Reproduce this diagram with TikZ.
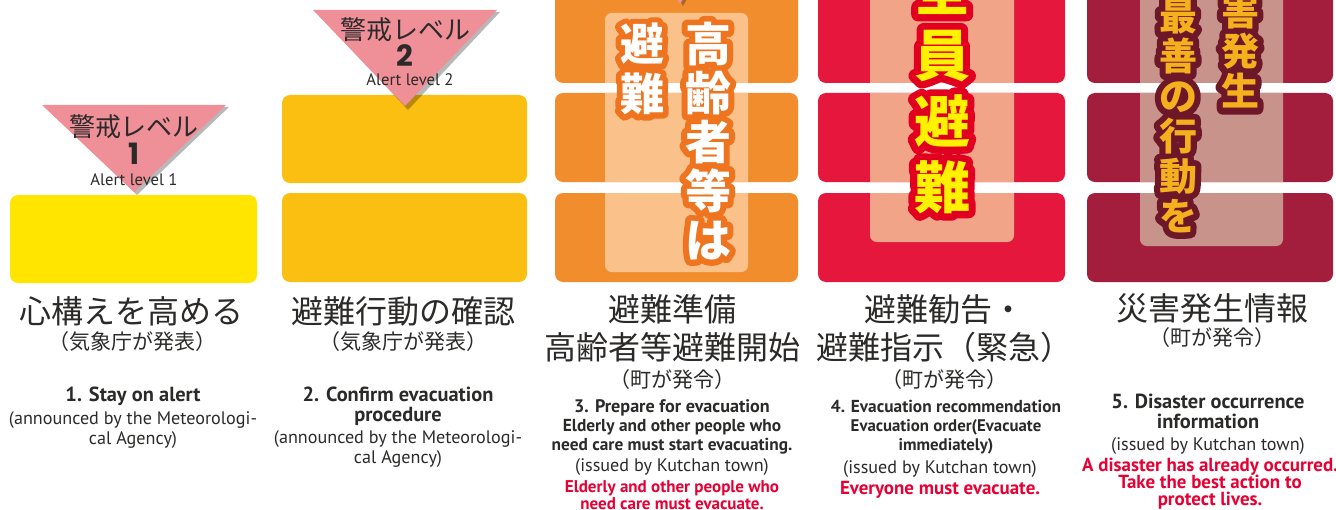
\documentclass[tikz,border=0pt]{standalone}
\usepackage{fontspec}
\setmainfont{PT Sans}
\newfontfamily\jp{Noto Sans CJK JP}
\newfontfamily\jpfatA{Noto Sans CJK JP}[BoldFeatures={FakeBold=26}]
\newfontfamily\jpfatC{Noto Sans CJK JP}[BoldFeatures={FakeBold=25}]
\newfontfamily\jpfatD{Noto Sans CJK JP}[BoldFeatures={FakeBold=32}]
\newfontfamily\digitfont{Poppins}

\definecolor{ink}{HTML}{2B2A29}
\definecolor{tripink}{HTML}{EF8F98}
\definecolor{yelA}{HTML}{FFE500}
\definecolor{yelB}{HTML}{FBBF12}
\definecolor{orgbox}{HTML}{F18D2C}
\definecolor{orgin}{HTML}{FAC18A}
\definecolor{orgline}{HTML}{EE7420}
\definecolor{redbox}{HTML}{E5173C}
\definecolor{redin}{HTML}{F1A488}
\definecolor{redline}{HTML}{E10020}
\definecolor{yeltext}{HTML}{FFF100}
\definecolor{marbox}{HTML}{A31E3D}
\definecolor{marin}{HTML}{C7938A}
\definecolor{marline}{HTML}{6D1729}
\definecolor{goldtext}{HTML}{F5B01E}
\definecolor{alertred}{HTML}{E60033}

\tikzset{
  box/.style={rounded corners=6},
  jphead/.style={font=\jp\fontsize{24}{28}\selectfont, text=ink, inner sep=0},
  jpsub/.style={font=\jp\fontsize{15.75}{18}\selectfont, text=ink, inner sep=0},
  trijp/.style={font=\jp\fontsize{19.5}{22}\selectfont, text=ink, inner sep=0},
  tridig/.style={font=\digitfont\bfseries\fontsize{22}{24}\selectfont, text=ink, inner sep=0},
  trien/.style={font=\fontsize{12.5}{14}\selectfont, text=ink, inner sep=0},
  en/.style={inner sep=0, text=ink, text height=0.7em, text depth=0.2em},
  enbig/.style={en, font=\bfseries\fontsize{15.3}{17}\selectfont},
  enb/.style={en, font=\bfseries\fontsize{13}{15}\selectfont},
  enr/.style={en, font=\fontsize{13.6}{15}\selectfont},
  enred/.style={en, font=\bfseries\fontsize{12.75}{15}\selectfont, text=alertred},
  enredbig/.style={en, font=\bfseries\fontsize{14.2}{15}\selectfont, text=alertred},
  vcol/.style={align=center, inner sep=0},
  joinround/.style={execute at begin node={\special{pdf:literal direct 1 j 1 J}}},
  vcolA/.style={vcol, font=\jp\bfseries\fontsize{34.5}{36.75}\selectfont, text=white},
  vcolAo/.style={vcol, joinround, font=\jpfatA\bfseries\fontsize{34.5}{36.75}\selectfont, text=orgline},
  vcolB/.style={vcol, font=\jp\bfseries\fontsize{33}{37.5}\selectfont, text=white},
  vcolBo/.style={vcol, joinround, font=\jpfatA\bfseries\fontsize{33}{37.5}\selectfont, text=orgline},
  vcolC/.style={vcol, font=\jp\bfseries\fontsize{42}{49.5}\selectfont, text=yeltext},
  vcolCo/.style={vcol, joinround, font=\jpfatC\bfseries\fontsize{42}{49.5}\selectfont, text=redline},
  vcolD/.style={vcol, font=\jp\bfseries\fontsize{28.5}{30}\selectfont, text=goldtext},
  vcolDo/.style={vcol, joinround, font=\jpfatD\bfseries\fontsize{28.5}{30}\selectfont, text=marline},
}

\begin{document}
\begin{tikzpicture}[x=0.75pt,y=-0.75pt]
\useasboundingbox (0,0) rectangle (1336,510);
\clip (0,0) rectangle (1336,510);

% ---------- column 1 ----------
\fill[yelA, box] (10,195) rectangle (257,283);
\fill[black, opacity=0.28] (45,107) -- (229,107) -- (137,195) -- cycle;
\fill[tripink] (42,105) -- (226,105) -- (134,192) -- cycle;
\node[trijp] (t1a) at (134,127) {警戒レベル};
\node[tridig] (t1b) at (134,154) {1};
\node[trien] (t1c) at (134,180) {Alert level 1};

% ---------- column 2 ----------
\fill[yelB, box] (282,95) rectangle (527,183);
\fill[yelB, box] (282,193) rectangle (527,282);
\fill[black, opacity=0.28] (316,12) -- (500,12) -- (408,110) -- cycle;
\fill[tripink] (313,10) -- (497,10) -- (405,106) -- cycle;
\node[trijp] (t2a) at (405,30) {警戒レベル};
\node[tridig] (t2b) at (405,56) {2};
\node[trien] (t2c) at (410,80) {Alert level 2};

% ---------- column 3 ----------
\fill[orgbox, box] (555,-20) rectangle (798,83);
\fill[orgbox, box] (555,93) rectangle (798,182);
\fill[orgbox, box] (555,193) rectangle (798,282);
\begin{scope}
  \clip[box] (555,-20) rectangle (798,83) (555,93) rectangle (798,182) (555,193) rectangle (798,282);
  \fill[orgin, rounded corners=5] (605,13) rectangle (748,272);
\end{scope}
\fill[black, opacity=0.28] (668,-20) -- (698,-20) -- (683,6) -- cycle;
\fill[tripink] (665,-20) -- (695,-20) -- (680,4) -- cycle;
\node[vcolAo] (v3ro) at (708,141) {高\\齢\\者\\等\\は};
\node[vcolA]  (v3r)  at (708,141) {高\\齢\\者\\等\\は};
\node[vcolBo] (v3lo) at (642,69) {避\\難};
\node[vcolB]  (v3l)  at (642,69) {避\\難};

% ---------- column 4 ----------
\fill[redbox, box] (818,-20) rectangle (1065,83);
\fill[redbox, box] (818,93) rectangle (1065,182);
\fill[redbox, box] (818,193) rectangle (1065,282);
\begin{scope}
  \clip[box] (818,-20) rectangle (1065,83) (818,93) rectangle (1065,182) (818,193) rectangle (1065,282);
  \fill[redin, rounded corners=5] (870,-20) rectangle (1014,242);
\end{scope}
\node[vcolCo] (v4o) at (942,88) {全\\員\\避\\難};
\node[vcolC]  (v4)  at (942,88) {全\\員\\避\\難};

% ---------- column 5 ----------
\fill[marbox, box] (1087,-20) rectangle (1333,83);
\fill[marbox, box] (1087,93) rectangle (1333,182);
\fill[marbox, box] (1087,193) rectangle (1333,282);
\begin{scope}
  \clip[box] (1087,-20) rectangle (1333,83) (1087,93) rectangle (1333,182) (1087,193) rectangle (1333,282);
  \fill[marin, rounded corners=5] (1140,-20) rectangle (1283,246);
\end{scope}
\node[vcolDo] (v5ro) at (1240,51) {害\\発\\生};
\node[vcolD]  (v5r)  at (1240,51) {害\\発\\生};
\node[vcolDo] (v5lo) at (1178,116) {最\\善\\の\\行\\動\\を};
\node[vcolD]  (v5l)  at (1178,116) {最\\善\\の\\行\\動\\を};

% ---------- texts column 1 ----------
\node[jphead] (h1) at (132,311) {心構えを高める};
\node[jpsub] (s1) at (132,342) {（気象庁が発表）};
\node[enbig] (e1a) at (133,398) {1. Stay on alert};
\node[enr] (e1b) at (133,421) {(announced by the Meteorologi-};
\node[enr] (e1c) at (133,441) {cal Agency)};

% ---------- texts column 2 ----------
\node[jphead] (h2) at (403,311) {避難行動の確認};
\node[jpsub] (s2) at (403,342) {（気象庁が発表）};
\node[enbig] (e2a) at (398,398) {2. Confirm evacuation};
\node[enbig] (e2b) at (398,418) {procedure};
\node[enr] (e2c) at (398,440) {(announced by the Meteorologi-};
\node[enr] (e2d) at (398,460) {cal Agency)};

% ---------- texts column 3 ----------
\node[jphead] (h3a) at (672,309) {避難準備};
\node[jphead] (h3b) at (672,347) {高齢者等避難開始};
\node[jpsub] (s3) at (672,380) {（町が発令）};
\node[en, font=\bfseries\fontsize{13.6}{15}\selectfont] (e3a) at (672,409) {3. Prepare for evacuation};
\node[enb] (e3b) at (672,428) {Elderly and other people who};
\node[enb] (e3c) at (672,447) {need care must start evacuating.};
\node[enr] (e3d) at (672,468) {(issued by Kutchan town)};
\node[enred] (r3a) at (672,489) {Elderly and other people who};
\node[enred] (r3b) at (672,506) {need care must evacuate.};

% ---------- texts column 4 ----------
\node[jphead] (h4a) at (944,309) {避難勧告・};
\node[jphead] (h4b) at (944,347) {避難指示（緊急）};
\node[jpsub] (s4) at (944,380) {（町が発令）};
\node[enb] (e4a) at (946,409) {4. Evacuation recommendation};
\node[en, font=\bfseries\fontsize{12.6}{15}\selectfont] (e4b) at (946,428) {Evacuation order(Evacuate};
\node[en, font=\bfseries\fontsize{12.6}{15}\selectfont] (e4c) at (946,447) {immediately)};
\node[enr] (e4d) at (940,470) {(issued by Kutchan town)};
\node[enredbig] (r4) at (940,491) {Everyone must evacuate.};

% ---------- texts column 5 ----------
\node[jphead] (h5) at (1212,308) {災害発生情報};
\node[jpsub] (s5) at (1212,338) {（町が発令）};
\node[enbig] (e5a) at (1208,405) {5. Disaster occurrence};
\node[enbig] (e5b) at (1208,425) {information};
\node[enr] (e5c) at (1208,447) {(issued by Kutchan town)};
\node[enredbig] (r5a) at (1210,468) {A disaster has already occurred.};
\node[enredbig] (r5b) at (1210,485) {Take the best action to};
\node[enredbig] (r5c) at (1210,502) {protect lives.};
\end{tikzpicture}
\end{document}
